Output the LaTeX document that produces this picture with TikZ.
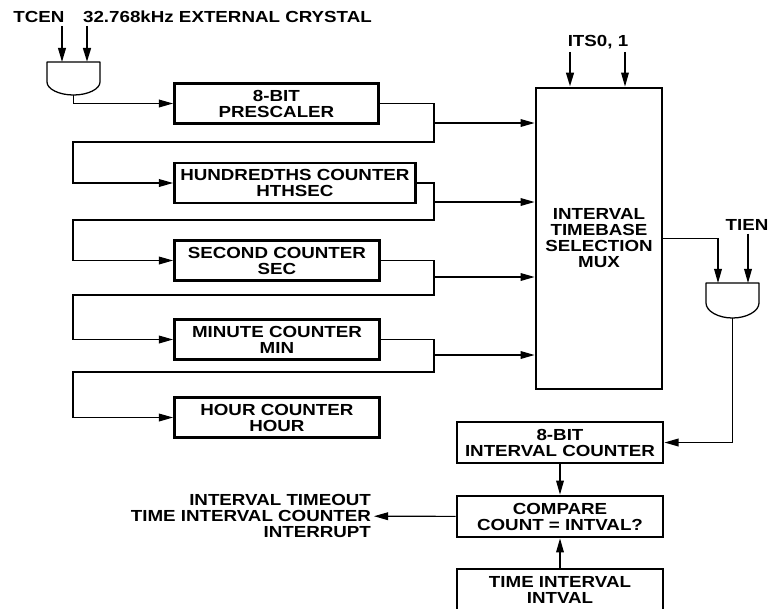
\documentclass[tikz,border=0pt]{standalone}
\usepackage{fontspec}
\setmainfont{Liberation Sans}[FakeStretch=1.17]
\usetikzlibrary{arrows.meta}

\tikzset{
  every node/.style={font=\bfseries\fontsize{11.4pt}{11.4pt}\selectfont, align=center},
  box/.style={draw, line width=2pt, inner sep=0pt, minimum height=1cm},
  thinbox/.style={draw, line width=1.1pt, inner sep=0pt},
  lbl/.style={inner sep=2pt},
  wire/.style={line width=0.8pt},
  sig/.style={wire, -{Triangle[length=10pt,width=5.5pt]}},
  gate/.style={line width=0.9pt, line join=round},
}

\begin{document}
\begin{tikzpicture}[x=0.025cm,y=-0.025cm]
\useasboundingbox (0,0) rectangle (769,608);

% clock inputs and enable gate
\node[lbl] (tcen) at (39,17) {TCEN};
\node[lbl,anchor=west] (xtal) at (80,17) {32.768kHz EXTERNAL CRYSTAL};
\coordinate (g1l) at (62,62);
\coordinate (g1r) at (87,62);
\coordinate (g1o) at (73.5,95);
\draw[gate] (47,62) -- (100,62) -- (100,82) .. controls (100,89) and (88,95) .. (g1o) .. controls (59,95) and (47,89) .. (47,82) -- cycle;
\draw[sig,line width=1.2pt] (tcen.south -| g1l) -- (g1l);
\draw[sig,line width=1.6pt] (xtal.south -| g1r) -- (g1r);

% counter chain
\node[box,minimum width=5.1cm,anchor=west] (presc) at (173,103.5) {8-BIT\\PRESCALER};
\node[box,minimum width=6.025cm,anchor=west] (hths) at (173,183) {HUNDREDTHS COUNTER\\HTHSEC};
\node[box,minimum width=5.125cm,anchor=west] (secs) at (173,260.5) {SECOND COUNTER\\SEC};
\node[box,minimum width=5.125cm,anchor=west] (mins) at (173,339.5) {MINUTE COUNTER\\MIN};
\node[box,minimum width=5.125cm,anchor=west] (hours) at (173,417.5) {HOUR COUNTER\\HOUR};

\node[box,minimum width=3.15cm,minimum height=7.525cm] (mux) at (599,238.5) {INTERVAL\\TIMEBASE\\SELECTION\\MUX};

\draw[sig] (g1o) |- (presc.west);

\coordinate (r1) at (434,142); \coordinate (l1) at (73,142); \coordinate (k1) at (434,123);
\coordinate (r2) at (434,220); \coordinate (l2) at (73,220); \coordinate (k2) at (434,202);
\coordinate (r3) at (434,295); \coordinate (l3) at (73,295); \coordinate (k3) at (434,277);
\coordinate (r4) at (434,372); \coordinate (l4) at (73,372); \coordinate (k4) at (434,355);

\draw[sig] (presc.east) -| (r1) -- (l1) |- (hths.west);
\draw[sig] (hths.east) -| (r2) -- (l2) |- (secs.west);
\draw[sig] (secs.east) -| (r3) -- (l3) |- (mins.west);
\draw[sig] (mins.east) -| (r4) -- (l4) |- (hours.west);

\draw[sig] (k1) -- (k1 -| mux.west);
\draw[sig] (k2) -- (k2 -| mux.west);
\draw[sig] (k3) -- (k3 -| mux.west);
\draw[sig] (k4) -- (k4 -| mux.west);

% mux select inputs
\node[lbl] (its) at (598,42) {ITS0, 1};
\coordinate (i1) at (570,88);
\coordinate (i2) at (625,88);
\draw[sig,line width=1.6pt] (its.south -| i1) -- (i1 |- mux.north);
\draw[sig] (its.south -| i2) -- (i2 |- mux.north);

% interrupt enable gate
\node[lbl] (tien) at (747,225) {TIEN};
\coordinate (g2l) at (718,283);
\coordinate (g2r) at (748,283);
\coordinate (g2o) at (732.5,318);
\draw[gate] (706,283) -- (759,283) -- (759,303) .. controls (759,311) and (747,318) .. (g2o) .. controls (718,318) and (706,311) .. (706,303) -- cycle;
\draw[sig] (mux.east) -| (g2l);
\draw[sig] (tien.south -| g2r) -- (g2r);

% interval counter and compare
\node[box,minimum width=5.15cm,minimum height=1.025cm] (icnt) at (560,442.5) {8-BIT\\INTERVAL COUNTER};
\node[box,minimum width=5.15cm,minimum height=1.025cm] (cmp) at (560,516.5) {COMPARE\\COUNT = INTVAL?};
\node[thinbox,minimum width=5.15cm,minimum height=1.05cm] (tiv) at (560,590) {TIME INTERVAL\\INTVAL};
\node[lbl,anchor=east,align=right] (tint) at (374,516) {INTERVAL TIMEOUT\\TIME INTERVAL COUNTER\\INTERRUPT};

\draw[sig] (g2o) |- (icnt.east);
\draw[sig] (icnt) -- (cmp);
\draw[sig] (tiv) -- (cmp);
\draw[sig] (cmp) -- (tint);
\end{tikzpicture}
\end{document}
